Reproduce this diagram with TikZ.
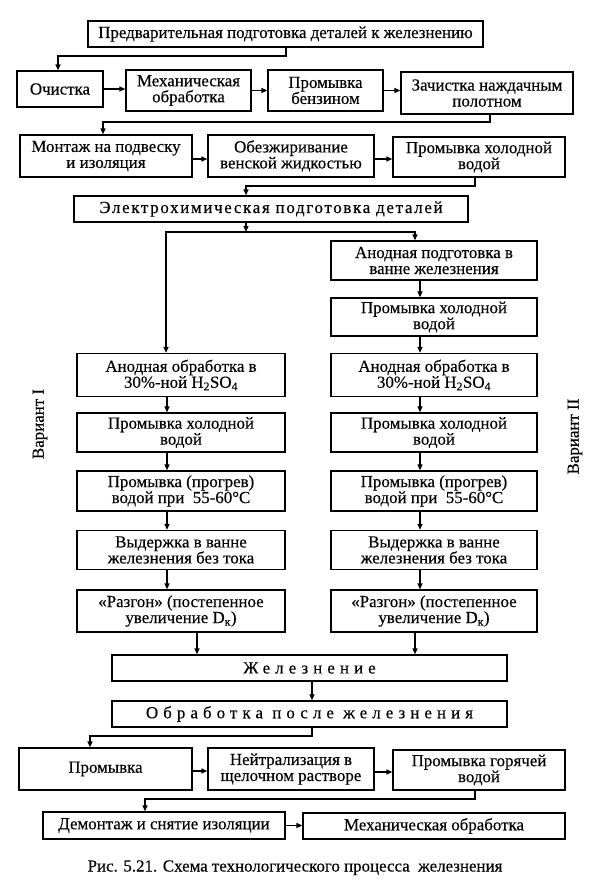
\documentclass[tikz,border=0pt]{standalone}
\usepackage{fontspec}
\setmainfont{Liberation Serif}[FakeBold=0.3]
\usetikzlibrary{arrows.meta}
\newcommand\boxfont{\fontsize{16.9pt}{16pt}\selectfont}
\begin{document}
\begin{tikzpicture}[x=1pt,y=-1pt,
  box/.style={draw, line width=1.3pt, align=center, inner sep=1pt, font=\boxfont},
  arr/.style={line width=1.3pt, -{Triangle[length=6pt,width=5pt]}},
  lbl/.style={font=\boxfont, inner sep=0pt}]
\useasboundingbox (0,0) rectangle (602,881);
% --- preliminary preparation
\node[box, minimum width=395pt, minimum height=26pt] (pre) at (285.5,34) {Предварительная подготовка деталей к железнению};
\node[box, minimum width=86pt, minimum height=36pt] (och) at (60,89) {Очистка};
\node[box, minimum width=125pt, minimum height=41pt] (meh) at (188.5,90.5) {Механическая\\обработка};
\node[box, minimum width=115pt, minimum height=41pt] (benz) at (325.5,90.5) {Промывка\\бензином};
\node[box, minimum width=172pt, minimum height=42pt] (zach) at (487,93) {Зачистка наждачным\\полотном};
\node[box, minimum width=172pt, minimum height=42pt] (mont) at (106,156) {Монтаж на подвеску\\и изоляция};
\node[box, minimum width=166pt, minimum height=42pt] (obez) at (291,156) {Обезжиривание\\венской жидкостью};
\node[box, minimum width=172pt, minimum height=40pt] (phv) at (479,157) {Промывка холодной\\водой};
\node[box, minimum width=394pt, minimum height=26pt] (ech) at (271,209) {\addfontfeatures{LetterSpace=10}Электрохимическая подготовка деталей};
% --- right column (variant II)
\node[box, minimum width=206pt, minimum height=39pt] (R1) at (434,260.5) {Анодная подготовка в\\ванне железнения};
\node[box, minimum width=206pt, minimum height=38pt] (R2) at (434,317) {Промывка холодной\\водой};
\node[box, minimum width=206pt, minimum height=43pt] (R3) at (434,375) {Анодная обработка в\\30\%-ной H\textsubscript{2}SO\textsubscript{4}};
\node[box, minimum width=206pt, minimum height=39pt] (R4) at (434,432.5) {Промывка холодной\\водой};
\node[box, minimum width=206pt, minimum height=40pt] (R5) at (434,491) {Промывка (прогрев)\\водой при\ \ 55-60°C};
\node[box, minimum width=206pt, minimum height=39pt] (R6) at (434,550) {Выдержка в ванне\\железнения без тока};
\node[box, minimum width=206pt, minimum height=42pt] (R7) at (434,611) {«Разгон» (постепенное\\увеличение D\textsubscript{к})};
% --- left column (variant I)
\node[box, minimum width=208pt, minimum height=43pt] (L1) at (181,375) {Анодная обработка в\\30\%-ной H\textsubscript{2}SO\textsubscript{4}};
\node[box, minimum width=208pt, minimum height=39pt] (L2) at (181,432.5) {Промывка холодной\\водой};
\node[box, minimum width=208pt, minimum height=40pt] (L3) at (181,491) {Промывка (прогрев)\\водой при\ \ 55-60°C};
\node[box, minimum width=208pt, minimum height=39pt] (L4) at (181,550) {Выдержка в ванне\\железнения без тока};
\node[box, minimum width=208pt, minimum height=42pt] (L5) at (181,611) {«Разгон» (постепенное\\увеличение D\textsubscript{к})};
\node[lbl, rotate=90] (v1) at (40,424) {Вариант I};
\node[lbl, rotate=90] (v2) at (575,436.5) {Вариант II};
% --- plating and after-treatment
\node[box, minimum width=395pt, minimum height=26pt] (zhel) at (309.5,668) {\addfontfeatures{LetterSpace=30}Железнение};
\node[box, minimum width=395pt, minimum height=26pt] (obr) at (309.5,714) {\addfontfeatures{LetterSpace=30}Обработка после железнения};
\node[box, minimum width=173pt, minimum height=42pt] (prom) at (105.5,769) {Промывка};
\node[box, minimum width=166pt, minimum height=42pt] (neitr) at (291,769) {Нейтрализация в\\щелочном растворе};
\node[box, minimum width=172pt, minimum height=40pt] (phg) at (479,770) {Промывка горячей\\водой};
\node[box, minimum width=242pt, minimum height=27pt] (demont) at (164,825.5) {Демонтаж и снятие изоляции};
\node[box, minimum width=262pt, minimum height=26pt] (mehobr) at (434,826) {Механическая обработка};
\node[lbl, anchor=base] (cap) at (295,871.5) {Рис. 5.21. Схема технологического процесса\ \ железнения};
% --- connectors
\coordinate (a1) at (286,56); \coordinate (a2) at (58,56);
\draw[arr] (a1 |- pre.south) -- (a1) -- (a2) -- (a2 |- och.north);
\draw[arr] (och.east) -- (och.east -| meh.west);
\draw[arr] (meh.east) -- (meh.east -| benz.west);
\draw[arr] (benz.east) -- (benz.east -| zach.west);
\coordinate (b1) at (490,122); \coordinate (b2) at (103,122);
\draw[arr] (b1 |- zach.south) -- (b1) -- (b2) -- (b2 |- mont.north);
\draw[arr] ([yshift=-3pt]mont.east) -- ([yshift=-3pt]mont.east -| obez.west);
\draw[arr] ([yshift=-3pt]obez.east) -- ([yshift=-3pt]obez.east -| phv.west);
\coordinate (c1) at (475,186); \coordinate (c2) at (246,186);
\draw[arr] (c1 |- phv.south) -- (c1) -- (c2) -- (c2 |- ech.north);
\coordinate (split) at (246,232);
\coordinate (sl) at (166,232); \coordinate (sr) at (415,232);
\draw[arr] (split |- ech.south) -- (split);
\draw[arr] (split) -- (sl) -- (sl |- L1.north);
\draw[arr] (split) -- (sr) -- (sr |- R1.north);
\coordinate (rx) at (420,0); \coordinate (lx) at (167,0);
\draw[arr] (rx |- R1.south) -- (rx |- R2.north);
\draw[arr] (rx |- R2.south) -- (rx |- R3.north);
\draw[arr] (rx |- R3.south) -- (rx |- R4.north);
\draw[arr] (rx |- R4.south) -- (rx |- R5.north);
\draw[arr] (rx |- R5.south) -- (rx |- R6.north);
\draw[arr] (rx |- R6.south) -- (rx |- R7.north);
\draw[arr] (lx |- L1.south) -- (lx |- L2.north);
\draw[arr] (lx |- L2.south) -- (lx |- L3.north);
\draw[arr] (lx |- L3.south) -- (lx |- L4.north);
\draw[arr] (lx |- L4.south) -- (lx |- L5.north);
\coordinate (zl) at (197,0); \coordinate (zr) at (415,0); \coordinate (zm) at (312,0);
\draw[arr] (zl |- L5.south) -- (zl |- zhel.north);
\draw[arr] (zr |- R7.south) -- (zr |- zhel.north);
\draw[arr] (zm |- zhel.south) -- (zm |- obr.north);
\coordinate (d1) at (312,736); \coordinate (d2) at (90,736);
\draw[arr] (d1 |- obr.south) -- (d1) -- (d2) -- (d2 |- prom.north);
\draw[arr] ([yshift=-2pt]prom.east) -- ([yshift=-2pt]prom.east -| neitr.west);
\draw[arr] ([yshift=-3pt]neitr.east) -- ([yshift=-3pt]neitr.east -| phg.west);
\coordinate (e1) at (475,799); \coordinate (e2) at (145,799);
\draw[arr] (e1 |- phg.south) -- (e1) -- (e2) -- (e2 |- demont.north);
\draw[arr] (demont.east) -- (demont.east -| mehobr.west);
\end{tikzpicture}
\end{document}
